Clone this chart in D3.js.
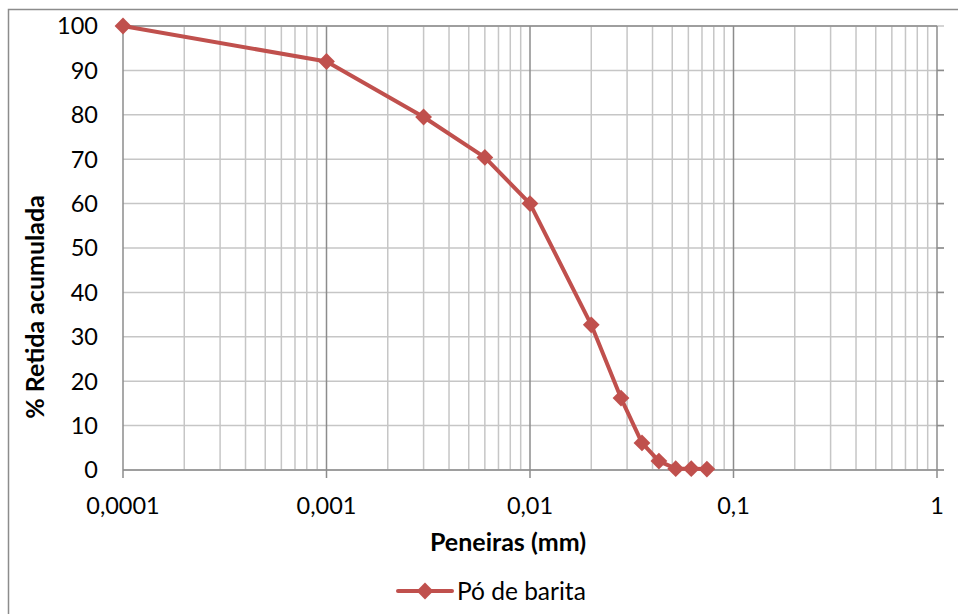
<!DOCTYPE html>
<html>
<head>
<meta charset="utf-8">
<script src="https://cdn.jsdelivr.net/npm/d3@7"></script>
<style>
  body { margin: 0; background: #fff; }
  text { font-family: Lato, "Open Sans", sans-serif; fill: #000; }
</style>
</head>
<body>
<div id="chart"></div>
<script>
// sieve opening (mm) and cumulative retained (%)
var sieves = [0.0001, 0.001, 0.003, 0.006, 0.01, 0.02, 0.028, 0.0355, 0.043, 0.052, 0.062, 0.074];
var retained = [100, 92, 79.5, 70.4, 60, 32.7, 16.2, 6.1, 2.0, 0.3, 0.3, 0.2];
var seriesName = "Pó de barita";
var xTicks = [0.0001, 0.001, 0.01, 0.1, 1];
var xTickLabels = ["0,0001", "0,001", "0,01", "0,1", "1"];
var yTicks = [0, 10, 20, 30, 40, 50, 60, 70, 80, 90, 100];

var w = 958, h = 614;
var margin = {left: 123, top: 26, right: 21, bottom: 144};

var svg = d3.select("#chart").append("svg")
  .attr("width", w).attr("height", h);

// outer chart frame (runs off the picture right and bottom)
svg.append("rect")
  .attr("x", 8.5).attr("y", 9.5)
  .attr("width", w + 20).attr("height", h + 20)
  .attr("fill", "none").attr("stroke", "#8c8c8c").attr("stroke-width", 1.5);

var pw = w - margin.left - margin.right;
var ph = h - margin.top - margin.bottom;

var x = d3.scaleLog().domain([0.0001, 1]).range([margin.left, margin.left + pw]);
var y = d3.scaleLinear().domain([0, 100]).range([margin.top + ph, margin.top]);

var grid = svg.append("g").attr("id", "grid");

// minor vertical lines
var minors = [];
for (var e = -4; e < 0; e++) {
  for (var m = 2; m <= 9; m++) minors.push(m * Math.pow(10, e));
}
grid.selectAll("line.minor").data(minors).enter().append("line")
  .attr("class", "minor")
  .attr("x1", function(d) { return x(d); }).attr("x2", function(d) { return x(d); })
  .attr("y1", y(100)).attr("y2", y(0))
  .attr("stroke", "#c6c6c6").attr("stroke-width", 1.5);

// horizontal lines
grid.selectAll("line.h").data(yTicks).enter().append("line")
  .attr("class", "h")
  .attr("x1", x(0.0001)).attr("x2", x(1) + 7)
  .attr("y1", function(d) { return y(d); }).attr("y2", function(d) { return y(d); })
  .attr("stroke", "#c6c6c6").attr("stroke-width", 1.5);

// right-side ticks
grid.selectAll("line.rt").data(yTicks.slice(0, 10)).enter().append("line")
  .attr("class", "rt")
  .attr("x1", x(1)).attr("x2", x(1) + 7)
  .attr("y1", function(d) { return y(d); }).attr("y2", function(d) { return y(d); })
  .attr("stroke", "#8c8c8c").attr("stroke-width", 1.5);

// major vertical lines
grid.selectAll("line.major").data(xTicks).enter().append("line")
  .attr("class", "major")
  .attr("x1", function(d) { return x(d); }).attr("x2", function(d) { return x(d); })
  .attr("y1", y(100)).attr("y2", y(0) + 8)
  .attr("stroke", "#8c8c8c").attr("stroke-width", 1.5);

// top border and x axis line
grid.append("line")
  .attr("x1", x(0.0001)).attr("x2", x(1))
  .attr("y1", y(100)).attr("y2", y(100))
  .attr("stroke", "#8c8c8c").attr("stroke-width", 1.5);
grid.append("line")
  .attr("x1", x(0.0001)).attr("x2", x(1))
  .attr("y1", y(0)).attr("y2", y(0))
  .attr("stroke", "#8c8c8c").attr("stroke-width", 1.5);

// tick labels
svg.append("g").selectAll("text").data(yTicks).enter().append("text")
  .attr("x", margin.left - 25)
  .attr("y", function(d) { return y(d); })
  .attr("dy", "0.36em")
  .attr("text-anchor", "end")
  .attr("font-size", 23.5)
  .text(function(d) { return d; });

svg.append("g").selectAll("text").data(xTicks).enter().append("text")
  .attr("x", function(d) { return x(d); })
  .attr("y", y(0) + 44)
  .attr("text-anchor", "middle")
  .attr("font-size", 23.5)
  .text(function(d, i) { return xTickLabels[i]; });

// axis titles
svg.append("text")
  .attr("x", 508).attr("y", 551)
  .attr("text-anchor", "middle")
  .attr("font-size", 25).attr("font-weight", "bold")
  .text("Peneiras (mm)");

svg.append("text")
  .attr("transform", "translate(44,307) rotate(-90)")
  .attr("text-anchor", "middle")
  .attr("font-size", 25).attr("font-weight", "bold")
  .text("% Retida acumulada");

// series
var red = "#c0504d";
var pts = sieves.map(function(s, i) { return {x: s, y: retained[i]}; });

svg.append("path")
  .datum(pts)
  .attr("fill", "none")
  .attr("stroke", red)
  .attr("stroke-width", 4)
  .attr("stroke-linejoin", "round")
  .attr("d", d3.line().x(function(d) { return x(d.x); }).y(function(d) { return y(d.y); }));

var diamond = d3.symbol().type(d3.symbolDiamond2).size(180);
svg.append("g").selectAll("path").data(pts).enter().append("path")
  .attr("transform", function(d) { return "translate(" + x(d.x) + "," + y(d.y) + ")"; })
  .attr("d", diamond)
  .attr("fill", red);

// legend
var lg = svg.append("g").attr("transform", "translate(398,591)");
lg.append("line").attr("x1", 0).attr("x2", 54).attr("y1", 0).attr("y2", 0)
  .attr("stroke", red).attr("stroke-width", 4).attr("stroke-linecap", "round");
lg.append("path").attr("transform", "translate(27,0)").attr("d", diamond).attr("fill", red);
lg.append("text").attr("x", 59).attr("y", 0).attr("dy", "0.36em")
  .attr("font-size", 24.5).text(seriesName);
</script>
</body>
</html>
